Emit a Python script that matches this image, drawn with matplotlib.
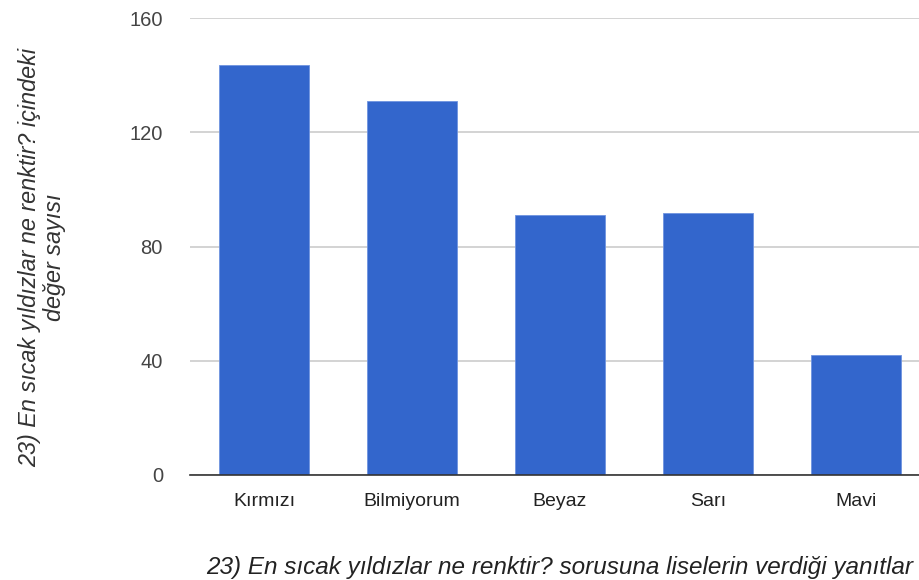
import matplotlib
matplotlib.use("Agg")
import matplotlib.pyplot as plt

# ── data ──────────────────────────────────────────────────────────────────────
categories = ["Kırmızı", "Bilmiyorum", "Beyaz", "Sarı", "Mavi"]
counts     = [143.5, 131, 91, 91.7, 42]
y_ticks    = [0, 40, 80, 120, 160]

plt.rcParams["font.family"] = ["Liberation Sans", "DejaVu Sans"]

fig = plt.figure(figsize=(9.2, 5.8), dpi=100)
# chart area runs slightly past the right edge, as in the original
ax = fig.add_axes([190 / 920, 105 / 580, 740 / 920, 457 / 580])

x = range(len(categories))
ax.bar(x, counts, width=0.608, color="#3366CC", edgecolor="#6f94e0",
       linewidth=0.6, zorder=3)

ax.set_xlim(-0.5, len(categories) - 0.5)
ax.set_ylim(0, 160)
ax.set_yticks(y_ticks)
ax.set_xticks(list(x))
ax.set_xticklabels(categories)

ax.grid(axis="y", color="#cccccc", linewidth=1.2, zorder=0)
for s in ["top", "right", "left"]:
    ax.spines[s].set_visible(False)
ax.spines["bottom"].set_color("#333333")
ax.spines["bottom"].set_linewidth(1.2)
ax.spines["bottom"].set_zorder(4)

ax.tick_params(axis="y", length=0, pad=19.5, labelsize=14.5, labelcolor="#444444")
ax.tick_params(axis="x", length=0, pad=13, labelsize=14, labelcolor="#222222")

ax.set_xlabel("23) En sıcak yıldızlar ne renktir? sorusuna liselerin verdiği yanıtlar",
              fontsize=17.5, style="italic", color="#222222", labelpad=33)
ax.set_ylabel("23) En sıcak yıldızlar ne renktir? içindeki\ndeğer sayısı",
              fontsize=16.8, style="italic", color="#333333",
              linespacing=1.1, va="center", ha="center")
ax.yaxis.set_label_coords(-0.2, 0.477)

fig.savefig("out.png", dpi=100)
